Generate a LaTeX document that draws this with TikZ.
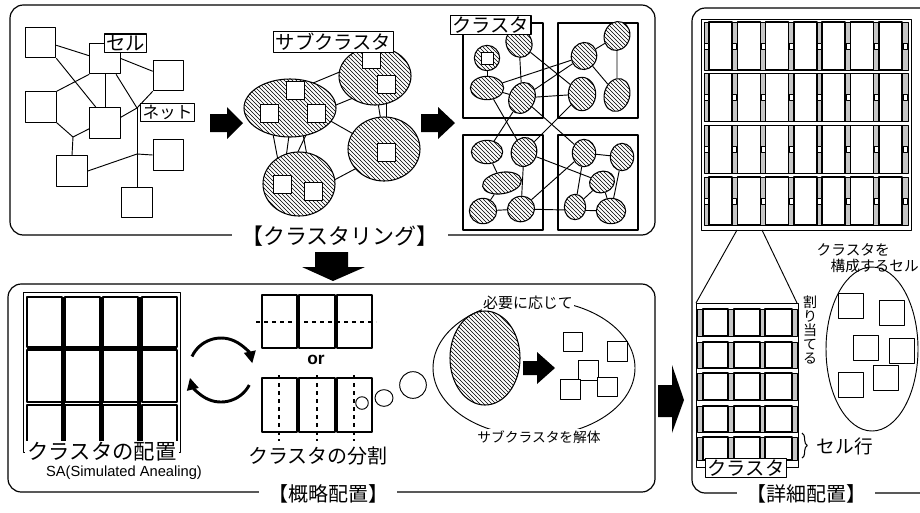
\documentclass[tikz,border=0pt]{standalone}
\usepackage{fontspec}
\newfontfamily\jp{Noto Sans CJK JP}
\newfontfamily\arf{Liberation Sans}
\usetikzlibrary{patterns,shapes.geometric,decorations.pathreplacing,arrows.meta,backgrounds}
\newcommand{\fs}[1]{\fontsize{#1}{#1}\selectfont}
\begin{document}
\begin{tikzpicture}[x=0.75pt,y=-0.75pt,line join=round,
  panel/.style={draw,line width=0.9pt,rounded corners=10pt},
  sq/.style={draw,fill=white,line width=0.7pt,minimum size=#1,inner sep=0pt},
  sq/.default=23pt,
  wire/.style={line width=0.7pt},
  hatchell/.style={ellipse,draw,line width=0.8pt,preaction={fill=white},pattern=north west lines,inner sep=0pt},
  lbl/.style={draw,fill=white,line width=0.8pt,font=\jp\fs{14.5pt},inner xsep=1.5pt,inner ysep=1pt},
  ptitle/.style={fill=white,font=\jp\fs{15pt},inner xsep=7pt,inner ysep=2pt},
  bigarrow/.style={fill=black},
  clbox/.style={draw,line width=1.5pt},
  celltall/.style={draw,fill=white,line width=1.1pt},
  stripe/.style={fill=gray!45},
  rotarrow/.style={line width=2.2pt,-{Triangle[length=9pt,width=8.5pt]}},
  thin/.style={draw,line width=0.7pt},
]
\useasboundingbox (0,0) rectangle (920,512);

% ---------- panels
\draw[panel] (10,5) rectangle (655,235);
\draw[panel] (8,284) rectangle (655,492);
\draw[panel] (692,8) rectangle (945,493);
\node[ptitle,font=\jp\fs{16.5pt}] (t1) at (340,236) {【クラスタリング】};
\node[ptitle] (t2) at (328,494) {【概略配置】};
\node[ptitle] (t3) at (806,494) {【詳細配置】};

% ---------- stage 1 : cells and nets
\foreach \n/\x/\y in {A/40.5/42.5,B/105/58.5,C/168.5/75.5,D/41/107,E/105/123,F/168.5/155,G/72/171,H/137/202.5}
  \node[sq] (\n) at (\x,\y) {};
\coordinate (J1) at (137,108);
\coordinate (J2) at (73,137);
\coordinate (J3) at (137,154);
\begin{pgfonlayer}{background}
\draw[wire] (A.-10) -- (B.170);
\draw[wire] (A.south east) -- (E.120);
\draw[wire] (B.south) -- (E.north);
\draw[wire] (B.east) -- (C.165);
\draw[wire] (B.south west) -- (D.north east);
\draw[wire] (D.south east) -- (J2) -- (E.200);
\draw[wire] (J2) -- (G.north);
\draw[wire] (B.-55) -- (J1);
\draw[wire] (C.south west) -- (J1);
\draw[wire] (E.20) -- (J1);
\draw[wire] (J1) -- (H.north);
\draw[wire] (G.east) -- (J3) -- (F.west);
\end{pgfonlayer}
\node[lbl] (lcell) at (125.5,43) {セル};
\node[lbl,font=\jp\fs{12.5pt}] (lnet) at (167.5,112.5) {ネット};

% ---------- arrows in panel 1
\fill[bigarrow] (210,114) -- (227,114) -- (227,107) -- (243,123) -- (227,139) -- (227,132) -- (210,132) -- cycle;
\fill[bigarrow] (421,114) -- (438,114) -- (438,107) -- (455,123) -- (438,139) -- (438,132) -- (421,132) -- cycle;

% ---------- stage 2 : sub-clusters
\node[hatchell,minimum width=69pt,minimum height=43.5pt] (E1) at (290,108) {};
\node[hatchell,minimum width=54pt,minimum height=43.5pt] (E2) at (375,76) {};
\node[hatchell,minimum width=54pt,minimum height=48pt] (E3) at (384,149) {};
\node[hatchell,minimum width=54pt,minimum height=48pt] (E4) at (299,184) {};
\foreach \n/\x/\y in {s1/295/90.5,s2/269/113,s3/316.5/113,s4/371/59,s5/386/84.5,s6/386/152.5,s7/282.5/184,s8/313.5/191}
  \node[sq=13.5pt] (\n) at (\x,\y) {};
\begin{pgfonlayer}{background}
\foreach \a/\b in {s1/s4,s3/s5,s3/s6,s4/s6,s5/s6,s8/s6,s1/s7,s1/s8,s2/s7,s3/s7,s1/s3,s1/s2}
  \draw[wire] (\a) -- (\b);
\end{pgfonlayer}
\node[lbl] (lsub) at (333.5,42) {サブクラスタ};

% ---------- stage 3 : clusters
\draw[clbox] (463,23) rectangle (543,118);
\draw[clbox] (558,23) rectangle (638,118);
\draw[clbox] (463,135) rectangle (543,230);
\draw[clbox] (558,135) rectangle (638,230);
\node[hatchell,minimum width=19pt,minimum height=19pt] (ca) at (487,58) {};
\node[sq=9pt] (casq) at (487,58.5) {};
\node[hatchell,minimum width=19pt,minimum height=22pt,rotate=25] (cb) at (519,43) {};
\node[hatchell,minimum width=25pt,minimum height=17.5pt] (cc) at (487,88) {};
\node[hatchell,minimum width=19pt,minimum height=24pt,rotate=-25] (cd) at (522,98) {};
\node[hatchell,minimum width=19pt,minimum height=20.5pt,rotate=-20] (ce) at (584,56) {};
\node[hatchell,minimum width=19pt,minimum height=22pt,rotate=-20] (cf) at (617,36) {};
\node[hatchell,minimum width=20.5pt,minimum height=25pt] (cg) at (582,94) {};
\node[hatchell,minimum width=19pt,minimum height=25pt,rotate=-15] (ch) at (617,95) {};
\node[hatchell,minimum width=23.5pt,minimum height=17.5pt] (ci) at (487,152) {};
\node[hatchell,minimum width=19pt,minimum height=22pt,rotate=-15] (cj) at (524,152) {};
\node[hatchell,minimum width=29.5pt,minimum height=16pt,rotate=10] (ck) at (502,183) {};
\node[hatchell,minimum width=20.5pt,minimum height=19pt] (cl) at (483,211) {};
\node[hatchell,minimum width=20.5pt,minimum height=19pt,rotate=20] (cm) at (521,209) {};
\node[hatchell,minimum width=17.5pt,minimum height=20.5pt] (cn) at (584,153) {};
\node[hatchell,minimum width=17.5pt,minimum height=20.5pt] (co) at (622,157) {};
\node[hatchell,minimum width=19pt,minimum height=16pt,rotate=20] (cp) at (602,182) {};
\node[hatchell,minimum width=16pt,minimum height=19pt] (cq) at (575,207) {};
\node[hatchell,minimum width=22pt,minimum height=19pt] (cr) at (611,211) {};
\begin{pgfonlayer}{background}
\foreach \a/\b in {ca/cc,cc/ce,cc/cd,cb/cd,cb/cg,cd/ce,ce/cf,ce/ch,cf/ch,cd/cg,cc/cj,cd/ci,cd/cn,cg/cj,cj/cp,ci/ck,ck/cl,cl/cm,cj/cm,cm/cn,cm/cr,cn/cq,cn/co,co/cr,cp/cr,cp/cq}
  \draw[wire] (\a) -- (\b);
\end{pgfonlayer}
\node[lbl] (lclu) at (490.5,25) {クラスタ};

% ---------- down arrow
\fill[bigarrow] (315,252) -- (348,252) -- (348,267) -- (365,267) -- (333,281) -- (302,267) -- (315,267) -- cycle;

% ---------- panel 2 : placement of clusters
\draw[line width=0.6pt] (23,292) rectangle (180,452);
\foreach \xl in {27,65,103,142}{
  \foreach \yt/\yb in {297/347,350/402,405/450}{
    \draw[line width=1pt] (\xl,\yt) rectangle (\xl+35,\yb);}}
\foreach \xs in {63,101,139} \draw[line width=2.3pt] (\xs,297) -- (\xs,447);
\draw[line width=2.3pt] (27,348) -- (177,348);
\node[fill=white,font=\jp\fs{16pt},inner xsep=2pt,inner ysep=1pt] (cpl) at (102,452) {クラスタの配置};
\node[font=\arf\fs{11pt}] (sa) at (124,473) {SA(Simulated Anealing)};

\coordinate (rot) at (221,370);
\draw[rotarrow] (rot) ++(205:32) arc[start angle=205,end angle=348,radius=32];
\draw[rotarrow] (rot) ++(28:32) arc[start angle=28,end angle=166,radius=32];

% split boxes
\foreach \xl/\xr in {262/297,299/335,337/372} \draw[line width=1.1pt] (\xl,295) rectangle (\xr,348);
\draw[line width=2pt] (336,295) -- (336,348);
\draw[dashed,line width=0.8pt] (256,322) -- (376,322);
\node[font=\arf\bfseries\fs{13pt}] (or) at (316,360) {or};
\foreach \xl/\xr in {262/297,299/335,337/372} \draw[line width=1.1pt] (\xl,378) rectangle (\xr,432);
\draw[line width=2pt] (336,378) -- (336,432);
\foreach \xs in {279,317,354} \draw[dashed,line width=0.8pt] (\xs,375) -- (\xs,441);
\node[font=\jp\fs{15pt}] (split) at (318,456) {クラスタの分割};

% thought bubbles
\node[thin,ellipse,minimum width=9pt,minimum height=7.5pt] (b1) at (362,403) {};
\node[thin,ellipse,minimum width=13.5pt,minimum height=12.5pt] (b2) at (384,398) {};
\node[thin,ellipse,minimum width=20pt,minimum height=20pt] (b3) at (413,385) {};
\node[thin,ellipse,minimum width=151.5pt,minimum height=102pt] (th) at (534,368) {};
\node[fill=white,font=\jp\fs{11.2pt},inner sep=1pt] (need) at (528,303) {必要に応じて};
\node[fill=white,font=\jp\fs{10.3pt},inner sep=1pt] (dis) at (539,437) {サブクラスタを解体};
\node[hatchell,minimum width=52.5pt,minimum height=70.5pt] (hsub) at (485,358) {};
\fill[bigarrow] (523,361) -- (537,361) -- (537,352) -- (555,368) -- (537,384) -- (537,375) -- (523,375) -- cycle;
\foreach \n/\x/\y in {q1/573/342,q2/617.5/351.5,q3/588.5/370.5,q4/570.5/389.5,q5/607.5/387}
  \node[sq=14.5pt] (\n) at (\x,\y) {};

% big arrow to panel 3
\fill[bigarrow] (658,385) -- (672,385) -- (672,365) -- (684,400) -- (672,433) -- (672,417) -- (658,417) -- cycle;

% ---------- panel 3 : detailed placement
\foreach \r in {0,1,2,3}{
  \pgfmathsetmacro{\yt}{22+51.7*\r}
  \pgfmathsetmacro{\yb}{\yt+48}
  \fill[stripe] (704,\yt) rectangle (908,\yb);
  \draw[line width=0.5pt] (704,\yt) rectangle (908,\yb);
  \foreach \c in {0,...,6}{
    \pgfmathsetmacro{\xl}{709+28.3*\c}
    \draw[celltall] (\xl,\yt) rectangle ++(23,48);
  }
  \foreach \xs in {706.5,734.7,763,791.3,819.6,847.9,876.2,905}{
    \draw[fill=white,line width=0.4pt] (\xs-2,\yt+21) rectangle (\xs+2,\yt+27);
  }
}
\draw[line width=0.6pt] (701,19) rectangle (911,230);

\coordinate (ta) at (737,230);
\coordinate (tb) at (762,230);
\coordinate (tc) at (696,303);
\coordinate (td) at (797,303);
\draw[wire] (ta) -- (tc);
\draw[wire] (tb) -- (td);

\foreach \yt/\yb in {309/336,342/368,373/400,406/432,437/460}{
  \fill[stripe] (697,\yt) rectangle (797,\yb);
  \draw[line width=0.5pt] (697,\yt) rectangle (797,\yb);
  \foreach \xl/\xr in {703/728,734/760,765/792} \draw[celltall] (\xl,\yt) rectangle (\xr,\yb);
}
\draw[line width=0.6pt] (696,303) rectangle (798,467);
\node[lbl] (lcl2) at (746,468) {クラスタ};
\draw[line width=0.8pt,decorate,decoration={brace,amplitude=4pt}] (802,433) -- (802,458);
\node[anchor=west,font=\jp\fs{14pt}] (row) at (812,446) {セル行};
\node[font=\jp\fs{10.5pt},align=center] (wari) at (810,330) {割\\り\\当\\て\\る};

\node[thin,ellipse,minimum width=69pt,minimum height=123pt] (cset) at (872,349) {};
\node[anchor=west,font=\jp\fs{11pt}] (ct1) at (812,250) {クラスタを};
\node[anchor=west,font=\jp\fs{11pt}] (ct2) at (826,266) {構成するセル};
\foreach \n/\x/\y in {u1/850.5/305.5,u2/892/312.5,u3/865.5/348,u4/902/350.5,u5/850.5/384.5,u6/885.5/377.5}
  \node[sq=18.75pt] (\n) at (\x,\y) {};
\end{tikzpicture}
\end{document}
